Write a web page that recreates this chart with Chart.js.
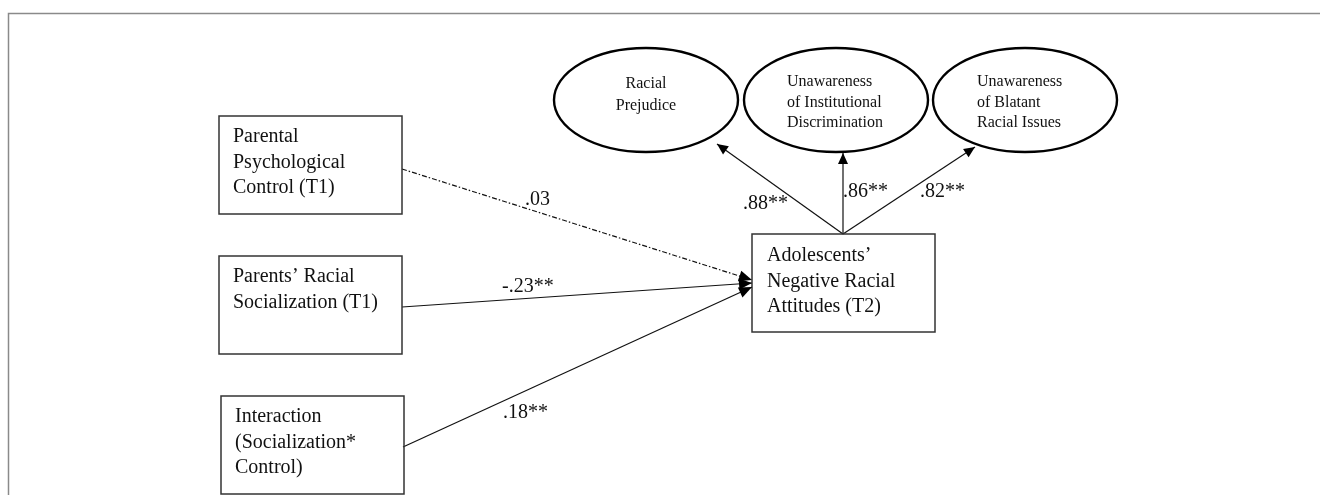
<!DOCTYPE html>
<html>
<head>
<meta charset="utf-8">
<script src="https://cdn.jsdelivr.net/npm/chart.js@4.4.0/dist/chart.umd.min.js"></script>
<style>
  html, body { margin: 0; padding: 0; background: #fff; }
  #wrap { width: 1320px; height: 495px; }
</style>
</head>
<body>
<div id="wrap"><canvas id="sem" width="1320" height="495"></canvas></div>
<script>
// ---- model content ----
var predictors = [
  ['Parental', 'Psychological', 'Control (T1)'],
  ['Parents\u2019 Racial', 'Socialization (T1)'],
  ['Interaction', '(Socialization*', 'Control)']
];
var outcome = ['Adolescents\u2019', 'Negative Racial', 'Attitudes (T2)'];
var indicators = [
  ['Racial', 'Prejudice'],
  ['Unawareness', 'of Institutional', 'Discrimination'],
  ['Unawareness', 'of Blatant', 'Racial Issues']
];
var pathCoefs = ['.03', '-.23**', '.18**'];
var pathSig = [false, true, true];
var loadings = ['.88**', '.86**', '.82**'];

// ---- layout (diagram units = px of the 1320x495 figure) ----
var boxW = 183, boxH = 98;
var predBox = [[219, 116], [219, 256], [221, 396]];
var outBox = [752, 234];
var ellC = [[646, 100], [836, 100], [1025, 100]];
var ellR = [92, 52];
var predFrom = [[402, 169], [402, 307], [403, 447]];
var predTo = [[752, 280], [752, 283], [752, 287]];
var apex = [843, 234];
var loadTo = [[717, 144], [843, 153], [975, 147]];
var coefAt = [[525, 205], [502, 292], [503, 418]];
var loadAt = [[743, 209], [843, 197], [920, 197]];

var serif = '"Liberation Serif", "Times New Roman", serif';

// line datasets for every arrow, drawn by chart.js on the linear scales
var datasets = [];
for (var i = 0; i < predictors.length; i++) {
  datasets.push({
    data: [{x: predFrom[i][0], y: predFrom[i][1]}, {x: predTo[i][0], y: predTo[i][1]}],
    showLine: true, pointRadius: 0, borderColor: '#111', borderWidth: 1.2,
    borderDash: pathSig[i] ? [] : [5, 2, 1.5, 2]
  });
}
for (var j = 0; j < indicators.length; j++) {
  datasets.push({
    data: [{x: apex[0], y: apex[1]}, {x: loadTo[j][0], y: loadTo[j][1]}],
    showLine: true, pointRadius: 0, borderColor: '#111', borderWidth: 1.2
  });
}

function arrowHead(ctx, x0, y0, x1, y1, len, half) {
  var a = Math.atan2(y1 - y0, x1 - x0);
  ctx.beginPath();
  ctx.moveTo(x1, y1);
  ctx.lineTo(x1 - len * Math.cos(a) + half * Math.sin(a), y1 - len * Math.sin(a) - half * Math.cos(a));
  ctx.lineTo(x1 - len * Math.cos(a) - half * Math.sin(a), y1 - len * Math.sin(a) + half * Math.cos(a));
  ctx.closePath();
  ctx.fill();
}

var diagram = {
  id: 'diagram',
  beforeDraw: function(chart) {
    var ctx = chart.ctx;
    ctx.save();
    ctx.fillStyle = '#fff';
    ctx.fillRect(0, 0, chart.width, chart.height);
    ctx.restore();
  },
  afterDraw: function(chart) {
    var ctx = chart.ctx, sx = chart.scales.x, sy = chart.scales.y;
    var X = function(v) { return sx.getPixelForValue(v); };
    var Y = function(v) { return sy.getPixelForValue(v); };
    ctx.save();

    // outer frame
    ctx.strokeStyle = '#8a8a8a';
    ctx.lineWidth = 1.5;
    ctx.strokeRect(X(8) + 0.5, Y(13) + 0.5, 1400, 600);

    // boxes
    ctx.strokeStyle = '#333';
    ctx.lineWidth = 1.5;
    ctx.fillStyle = '#111';
    ctx.font = '20px ' + serif;
    ctx.textAlign = 'left';
    ctx.textBaseline = 'alphabetic';
    predictors.forEach(function(lines, k) {
      var bx = predBox[k][0], by = predBox[k][1];
      ctx.strokeRect(X(bx), Y(by), X(bx + boxW) - X(bx), Y(by + boxH) - Y(by));
      lines.forEach(function(t, n) { ctx.fillText(t, X(bx + 14), Y(by + 26 + n * 25.5)); });
    });
    ctx.strokeRect(X(outBox[0]), Y(outBox[1]), X(outBox[0] + boxW) - X(outBox[0]), Y(outBox[1] + boxH) - Y(outBox[1]));
    outcome.forEach(function(t, n) { ctx.fillText(t, X(outBox[0] + 15), Y(outBox[1] + 27 + n * 25.5)); });

    // ellipses (latent indicators)
    ctx.strokeStyle = '#000';
    ctx.lineWidth = 2.4;
    ctx.font = '16px ' + serif;
    indicators.forEach(function(lines, k) {
      var cx = ellC[k][0], cy = ellC[k][1];
      ctx.beginPath();
      ctx.ellipse(X(cx), Y(cy), X(cx + ellR[0]) - X(cx), Y(cy + ellR[1]) - Y(cy), 0, 0, Math.PI * 2);
      ctx.stroke();
      if (lines.length === 2) {
        ctx.textAlign = 'center';
        lines.forEach(function(t, n) { ctx.fillText(t, X(cx), Y(cy - 12 + n * 22)); });
      } else {
        ctx.textAlign = 'left';
        lines.forEach(function(t, n) { ctx.fillText(t, X(cx - 50 + k), Y(cy - 14 + n * 20.5)); });
      }
    });

    // arrow heads
    ctx.fillStyle = '#000';
    for (var i = 0; i < predictors.length; i++) {
      arrowHead(ctx, X(predFrom[i][0]), Y(predFrom[i][1]), X(predTo[i][0]), Y(predTo[i][1]), 13, 5.5);
    }
    for (var j = 0; j < indicators.length; j++) {
      arrowHead(ctx, X(apex[0]), Y(apex[1]), X(loadTo[j][0]), Y(loadTo[j][1]), 11, 5);
    }

    // coefficients
    ctx.fillStyle = '#111';
    ctx.font = '20px ' + serif;
    ctx.textAlign = 'left';
    pathCoefs.forEach(function(t, k) { ctx.fillText(t, X(coefAt[k][0]), Y(coefAt[k][1])); });
    loadings.forEach(function(t, k) { ctx.fillText(t, X(loadAt[k][0]), Y(loadAt[k][1])); });

    ctx.restore();
  }
};

new Chart(document.getElementById('sem'), {
  type: 'scatter',
  data: { datasets: datasets },
  options: {
    responsive: false,
    animation: false,
    layout: { padding: 0 },
    plugins: { legend: { display: false }, tooltip: { enabled: false } },
    scales: {
      x: { type: 'linear', min: 0, max: 1320, display: false },
      y: { type: 'linear', min: 0, max: 495, reverse: true, display: false }
    }
  },
  plugins: [diagram]
});
</script>
</body>
</html>
